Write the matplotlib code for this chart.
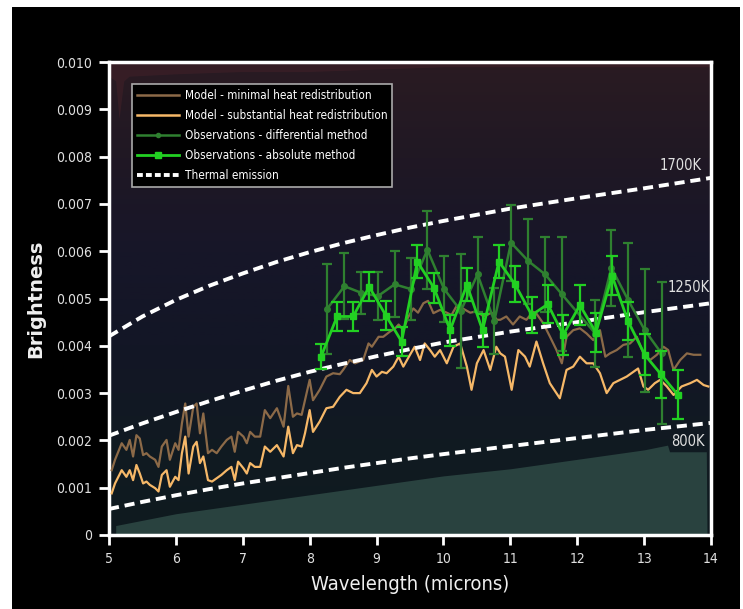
import os
import numpy as np
import matplotlib
matplotlib.use('Agg')
import matplotlib.pyplot as plt
from matplotlib import font_manager
from matplotlib.font_manager import FontProperties
from matplotlib.colors import LinearSegmentedColormap
from matplotlib.lines import Line2D

# model spectra
brown_x = [5.04, 5.09, 5.19, 5.26, 5.31, 5.36, 5.41, 5.46, 5.51, 5.56, 5.61, 5.69, 5.74, 5.79, 5.86,
           5.91, 5.99, 6.04, 6.09, 6.14, 6.19, 6.26, 6.31, 6.36, 6.41, 6.48, 6.54, 6.61, 6.68, 6.76,
           6.83, 6.88, 6.93, 7.01, 7.06, 7.11, 7.18, 7.26, 7.33, 7.41, 7.51, 7.61, 7.68, 7.75, 7.81,
           7.88, 7.93, 8.00, 8.05, 8.15,
           8.25, 8.35, 8.45, 8.50, 8.60, 8.68, 8.80, 8.88, 8.93, 9.03, 9.10, 9.20, 9.28, 9.33, 9.40,
           9.47, 9.55, 9.62, 9.70, 9.77, 9.85, 9.95, 10.05, 10.12, 10.20, 10.30, 10.40, 10.50, 10.60,
           10.72, 10.80,
           10.85, 10.94, 11.04, 11.14, 11.24, 11.34, 11.39, 11.49, 11.59, 11.69, 11.77, 11.84, 11.94,
           12.04, 12.14, 12.24, 12.34, 12.42, 12.49, 12.59, 12.69, 12.79, 12.89, 12.99, 13.09, 13.19,
           13.29, 13.36, 13.44, 13.54, 13.64, 13.74, 13.84]
brown_y = [0.00137, 0.00159, 0.00194, 0.0018, 0.00201, 0.00166, 0.00211, 0.00204, 0.00169, 0.00173,
           0.00166, 0.00159, 0.00144, 0.00187, 0.00201, 0.00159, 0.00194, 0.0018, 0.00236, 0.00278,
           0.00208, 0.00271, 0.00278, 0.00215, 0.00257, 0.00173, 0.0018, 0.00173, 0.00187, 0.00201,
           0.00208, 0.00176, 0.00218, 0.00208, 0.00194, 0.00218, 0.00208, 0.00208, 0.00264, 0.00247,
           0.00268, 0.00229, 0.00315, 0.0025, 0.00257, 0.00254, 0.00285, 0.00328, 0.00285, 0.00307,
           0.00335, 0.00342, 0.0034, 0.00349, 0.0037, 0.00363, 0.0037, 0.00405, 0.00398, 0.00419,
           0.00419, 0.00430, 0.00437, 0.00445, 0.00433, 0.00460, 0.00479, 0.00470, 0.00490, 0.00495,
           0.00469, 0.00476, 0.00470, 0.00465, 0.00485, 0.00478, 0.00470, 0.00473, 0.00462, 0.00470,
           0.00455,
           0.00455, 0.00462, 0.00445, 0.00462, 0.00455, 0.00472, 0.00468, 0.00448, 0.00420, 0.00391,
           0.00363, 0.00419, 0.00433, 0.00437, 0.00426, 0.00412, 0.00433, 0.00377, 0.00384, 0.00391,
           0.00402, 0.00405, 0.00419, 0.00384, 0.0037, 0.00381, 0.00398, 0.00391, 0.00349, 0.0037,
           0.00384, 0.00381, 0.00381]

orange_x = brown_x[:50] + [
    8.25, 8.35, 8.45, 8.55, 8.65, 8.75, 8.85, 8.93, 9.00, 9.08, 9.15, 9.25, 9.33, 9.40, 9.50, 9.57,
    9.65, 9.72, 9.80, 9.87, 9.95, 10.05, 10.15, 10.25, 10.35, 10.42, 10.50, 10.60, 10.70, 10.79,
    10.85, 10.92, 11.02, 11.12, 11.22, 11.29, 11.39, 11.49, 11.59, 11.74, 11.84, 11.94, 12.04, 12.14,
    12.24, 12.34, 12.44, 12.54, 12.64, 12.74, 12.84, 12.91, 12.99, 13.06, 13.16, 13.24, 13.34, 13.44,
    13.56, 13.69, 13.79, 13.89, 13.96]
orange_y = [0.00088, 0.00109, 0.00137, 0.00123, 0.00137, 0.00116, 0.00148, 0.0013, 0.00109, 0.00113,
            0.00106, 0.00099, 0.00092, 0.00127, 0.00137, 0.00102, 0.00123, 0.00116, 0.00173, 0.00208,
            0.0013, 0.00187, 0.00197, 0.00152, 0.00166, 0.00116, 0.00113, 0.0012, 0.00127, 0.00137,
            0.00144, 0.00116, 0.00155, 0.00141, 0.0013, 0.00152, 0.00144, 0.00144, 0.00187, 0.00176,
            0.0019, 0.00166, 0.00229, 0.00173, 0.0019, 0.00187, 0.00215, 0.00264, 0.00218, 0.0024,
            0.00268, 0.00271, 0.00292, 0.00307, 0.003, 0.003, 0.00321, 0.00349, 0.00335, 0.00345,
            0.00342, 0.00356, 0.00377, 0.00356, 0.00381, 0.00398, 0.0037, 0.00405, 0.00391, 0.00377,
            0.00391, 0.00363, 0.00398, 0.00405, 0.00356, 0.00307, 0.00363, 0.00391, 0.00349, 0.00398,
            0.00384, 0.00377, 0.00307, 0.00391, 0.00377, 0.00356, 0.00409, 0.00363, 0.00321, 0.00289,
            0.00349, 0.00356, 0.00377, 0.00363, 0.00363, 0.00342, 0.003, 0.00321, 0.00328, 0.00335,
            0.00345, 0.00352, 0.00314, 0.00307, 0.00321, 0.00328, 0.00314, 0.00296, 0.00314, 0.00321,
            0.00328, 0.00317, 0.00314]

# observations
diff_x = [8.26, 8.52, 8.77, 9.02, 9.27, 9.51, 9.76, 10.01, 10.26, 10.51, 10.76, 11.01, 11.27, 11.52,
          11.77, 12.27, 12.51, 12.76, 13.01, 13.26]
diff_y = [0.00478, 0.00526, 0.00512, 0.00505, 0.0053, 0.0052, 0.00603, 0.0052, 0.00474, 0.00551,
          0.00452, 0.00618, 0.00579, 0.00551, 0.00509, 0.00426, 0.00565, 0.00497, 0.00433, 0.00384]
diff_err = [0.00095, 0.0007, 0.00045, 0.0005, 0.0007, 0.00065, 0.00083, 0.0007, 0.0012, 0.0008,
            0.0007, 0.0008, 0.0009, 0.0008, 0.0012, 0.0007, 0.0008, 0.0012, 0.0013, 0.0015]

abs_x = [8.17, 8.41, 8.65, 8.89, 9.14, 9.375, 9.61, 9.86, 10.1, 10.35, 10.585, 10.83, 11.07, 11.32,
         11.56, 11.79, 12.04, 12.28, 12.52, 12.76, 13.01, 13.25, 13.5]
abs_y = [0.00377, 0.00462, 0.00462, 0.00525, 0.00464, 0.00409, 0.00578, 0.00522, 0.00433, 0.00529,
         0.00433, 0.00578, 0.0053, 0.00465, 0.00488, 0.00423, 0.00486, 0.00428, 0.00548, 0.00452,
         0.00381, 0.0034, 0.00297]
abs_err = [0.00027, 0.0003, 0.0003, 0.0003, 0.0003, 0.0003, 0.00035, 0.00032, 0.00033, 0.00035,
           0.00035, 0.00035, 0.00038, 0.00038, 0.0004, 0.00043, 0.00042, 0.00042, 0.00041, 0.0004,
           0.00043, 0.0005, 0.00052]

# thermal emission curves
thermal_x = [5, 5.5, 6, 6.5, 7, 7.5, 8, 8.5, 9, 9.5, 10, 11, 12, 13, 14]
t1700 = [0.0042, 0.00462, 0.00497, 0.00527, 0.00553, 0.00577, 0.00598, 0.00617, 0.00634, 0.0065,
         0.00664, 0.0069, 0.00712, 0.00733, 0.00755]
t1250 = [0.0021, 0.00236, 0.0026, 0.00283, 0.00305, 0.00326, 0.00345, 0.00362, 0.00378, 0.00393,
         0.00407, 0.0043, 0.0045, 0.00471, 0.0049]
t800 = [0.00055, 0.0007, 0.00084, 0.00097, 0.00109, 0.0012, 0.00131, 0.00142, 0.00152, 0.00162,
        0.00171, 0.00188, 0.00205, 0.00222, 0.00237]

# background shapes
teal_x = [5.1, 6, 7, 8, 9, 10, 11, 12, 13, 13.35, 13.38, 13.93, 13.94]
teal_top = [0.0002, 0.00045, 0.00065, 0.00085, 0.00105, 0.00125, 0.0014, 0.0016, 0.0018, 0.0019, 0.00176, 0.00176, 0.0]
maroon_x = [5.0, 5.1, 5.15, 5.22, 5.3, 6, 7, 8, 9, 10, 14]
maroon_low = [0.0097, 0.0096, 0.0088, 0.0096, 0.0097, 0.00975, 0.0098, 0.0098, 0.00985, 0.0099, 0.0099]

xticks = [5, 6, 7, 8, 9, 10, 11, 12, 13, 14]
yticks = [0, 0.001, 0.002, 0.003, 0.004, 0.005, 0.006, 0.007, 0.008, 0.009, 0.010]
ylabels = ['0', '0.001', '0.002', '0.003', '0.004', '0.005', '0.006', '0.007', '0.008', '0.009', '0.010']


def pick_font():
    # a condensed face is closest to the original lettering
    files = [f.fname for f in font_manager.fontManager.ttflist]
    files += font_manager.findSystemFonts()
    for want in ('DejaVuSansCondensed.ttf', 'LiberationSansNarrow-Regular.ttf',
                 'RobotoCondensed-Regular.ttf', 'OpenSans_Condensed-Regular.ttf'):
        for fn in files:
            if os.path.basename(fn) == want:
                return FontProperties(fname=fn)
    return FontProperties(family='Liberation Sans')


base = pick_font()


def fp(size):
    p = base.copy()
    p.set_size(size)
    return p


fig = plt.figure(figsize=(7.43, 6.09), dpi=100, facecolor='white')
# black backdrop
bg = fig.add_axes([12 / 743, 0, 728 / 743, 602 / 609])
bg.set_axis_off()
bg.add_patch(plt.Rectangle((0, 0), 1, 1, transform=bg.transAxes, color='black'))

ax = fig.add_axes([109 / 743, 74 / 609, 602 / 743, 473 / 609])

# gradient background
cmap = LinearSegmentedColormap.from_list('bg', [
    (0.0, '#0f1b1f'), (0.2, '#111a22'), (0.4, '#131626'), (0.6, '#171629'),
    (0.8, '#201824'), (1.0, '#2a1b22')])
ax.imshow(np.linspace(0, 1, 200).reshape(-1, 1), cmap=cmap, origin='lower',
          extent=[5, 14, 0, 0.010], aspect='auto', zorder=0)
ax.fill_between(teal_x, 0, teal_top, color='#29423f', lw=0, zorder=1)
ax.fill_between(maroon_x, maroon_low, 0.010, color='#3a1f27', lw=0, alpha=0.8, zorder=1)

ax.plot(brown_x, brown_y, color='#8c6a48', lw=1.6, zorder=3)
ax.plot(orange_x, orange_y, color='#f6b868', lw=1.6, zorder=3)

dash = (2.6, 1.5)
for ty in (t1700, t1250, t800):
    ax.plot(thermal_x, ty, color='white', lw=2.8, ls=(0, dash), zorder=4)

ax.errorbar(diff_x, diff_y, yerr=diff_err, color='#2f8030', lw=1.8, elinewidth=1.6, capsize=3.5,
            capthick=1.6, marker='o', ms=4, zorder=5)
ax.errorbar(abs_x, abs_y, yerr=abs_err, color='#22d022', lw=2, elinewidth=1.6, capsize=4,
            capthick=1.6, marker='s', ms=5, zorder=6)

for xx, yy, s in ((13.55, 0.00782, '1700K'), (13.66, 0.00524, '1250K'), (13.66, 0.00197, '800K')):
    ax.text(xx, yy, s, color='#e0e0e0', fontproperties=fp(10.5), ha='center', va='center', zorder=7)

ax.set_xlim(5, 14)
ax.set_ylim(0, 0.010)
ax.set_xticks(xticks)
ax.set_xticklabels([str(t) for t in xticks], fontproperties=fp(10))
ax.set_yticks(yticks)
ax.set_yticklabels(ylabels, fontproperties=fp(10))
ax.tick_params(colors='white', labelcolor='#e0e0e0', width=2, length=7, pad=5)
for s in ax.spines.values():
    s.set_color('white')
    s.set_linewidth(2.5)

ax.set_xlabel('Wavelength (microns)', color='#f0f0f0', fontproperties=fp(14.5), labelpad=7)
ax.set_ylabel('Brightness', color='#f0f0f0', fontsize=14, fontweight='bold', labelpad=8)

handles = [
    Line2D([], [], color='#8c6a48', lw=1.8),
    Line2D([], [], color='#f6b868', lw=1.8),
    Line2D([], [], color='#2f8030', lw=1.8, marker='o', ms=3),
    Line2D([], [], color='#22d022', lw=2, marker='s', ms=5),
    Line2D([], [], color='white', lw=2.8, ls=(0, (1.5, 0.8))),
]
labels = ['Model - minimal heat redistribution', 'Model - substantial heat redistribution',
          'Observations - differential method', 'Observations - absolute method', 'Thermal emission']
leg = ax.legend(handles, labels, loc='upper left', bbox_to_anchor=(0.038, 0.953), borderaxespad=0,
                prop=fp(8.4), labelcolor='white', facecolor='black', edgecolor='#aaaaaa',
                framealpha=1, fancybox=False, handlelength=3.6, labelspacing=0.6,
                borderpad=0.4, handletextpad=0.55)
leg.get_frame().set_linewidth(1.2)
leg.set_zorder(8)

fig.savefig('out.png', dpi=100, facecolor=fig.get_facecolor())
